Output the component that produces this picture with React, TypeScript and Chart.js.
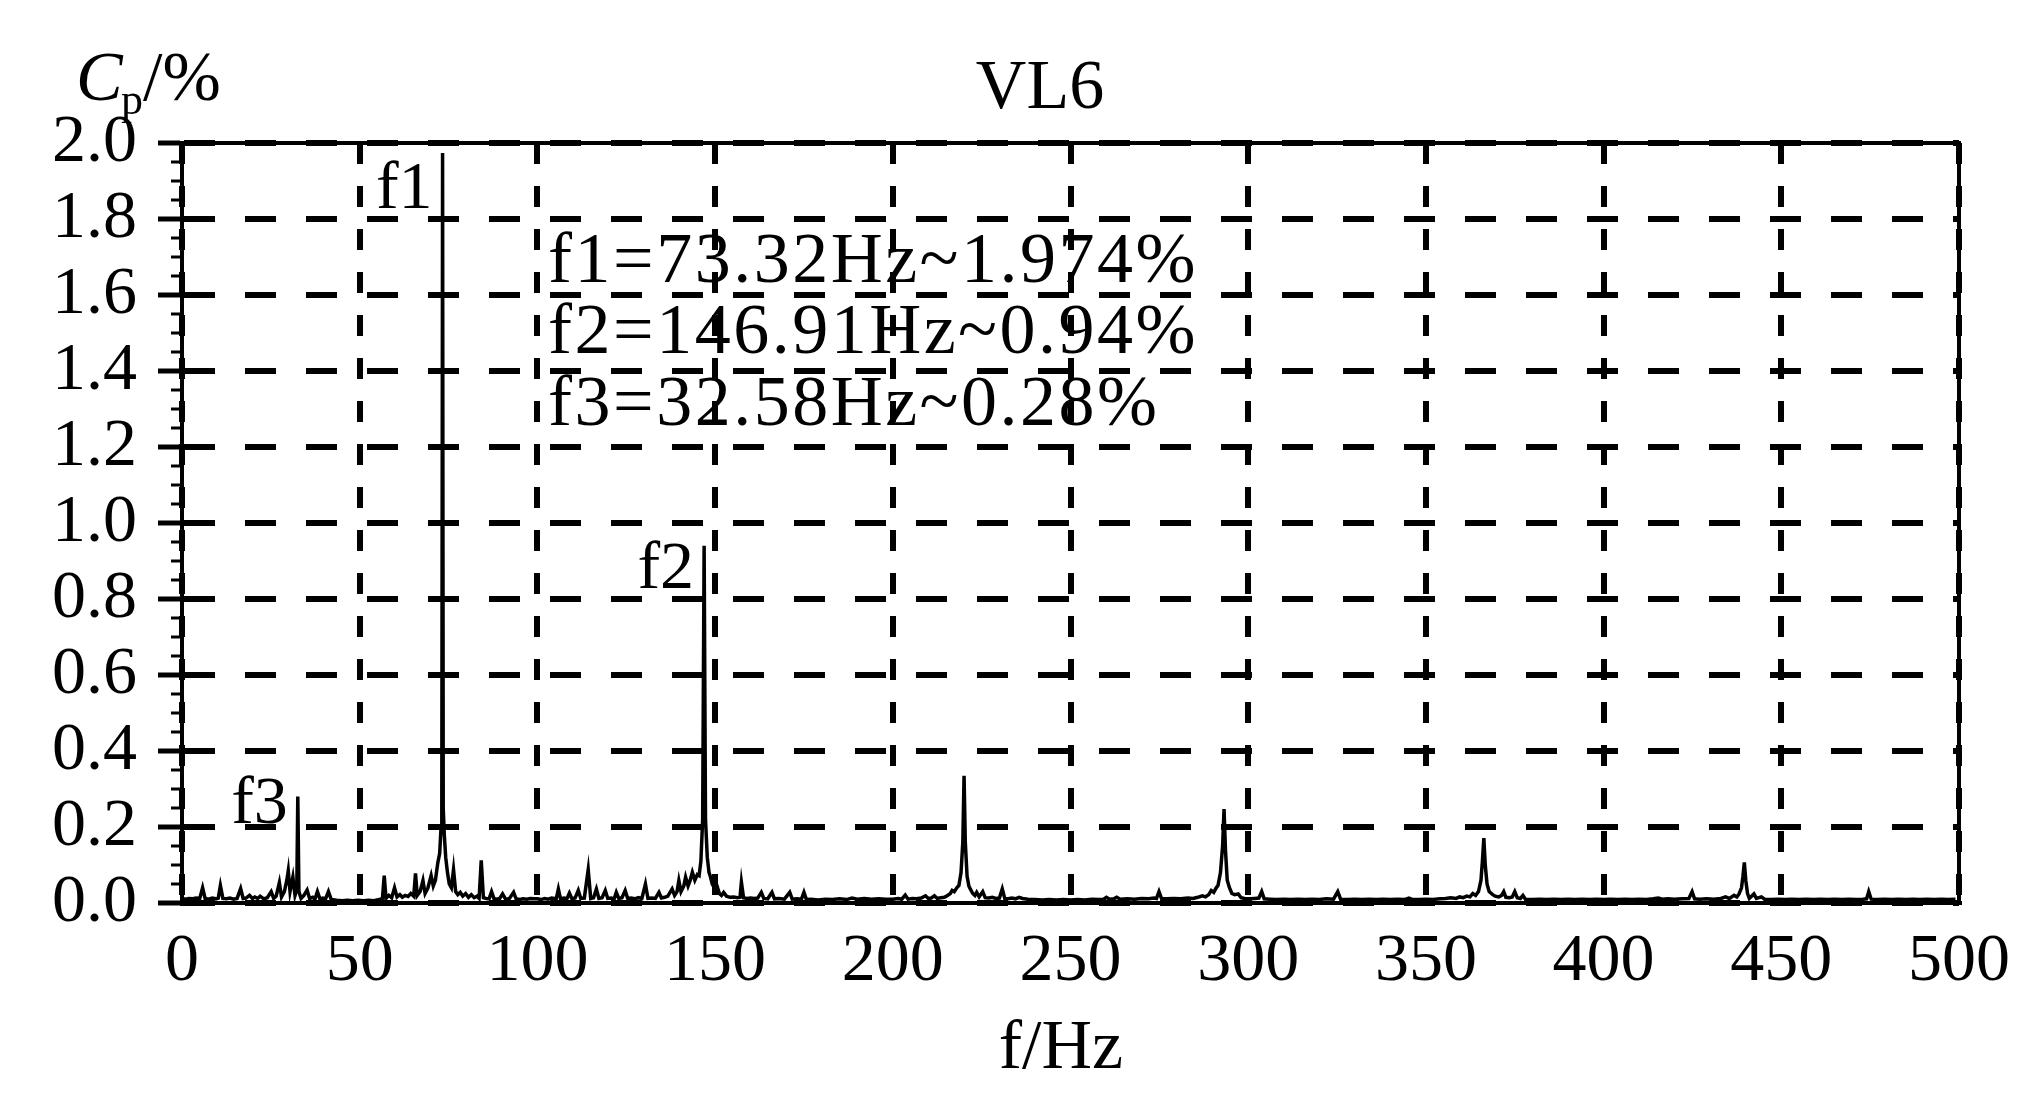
import React, { useEffect, useRef } from 'react';
import { Chart, registerables } from 'chart.js';

Chart.register(...registerables);

// ---------- data ----------
const xTickValues = [0, 50, 100, 150, 200, 250, 300, 350, 400, 450, 500];
const yTickValues = [0, 0.2, 0.4, 0.6, 0.8, 1.0, 1.2, 1.4, 1.6, 1.8, 2.0];

// spectrum vertices [f (Hz), Cp (%)]
const spectrum0to50: [number, number][] = [
  [0, 0.012], [1, 0.010], [2, 0.012], [3, 0.011], [4, 0.013], [5, 0.012], [5.8, 0.040], [6.5, 0.012],
  [7.5, 0.010], [8.5, 0.013], [9.5, 0.011], [10.2, 0.013], [10.8, 0.046], [11.5, 0.012], [12.5, 0.011],
  [13.5, 0.013], [14.5, 0.010], [15.5, 0.012], [16.5, 0.038], [17.2, 0.012], [18, 0.013], [19, 0.020],
  [19.8, 0.012], [20.5, 0.016], [21.3, 0.012], [22, 0.018], [23, 0.011], [24, 0.014], [25.1, 0.030],
  [25.8, 0.012], [26.5, 0.018], [27.4, 0.054], [28, 0.016], [28.8, 0.030], [29.5, 0.060], [29.9, 0.085],
  [30.4, 0.030], [31.2, 0.068], [31.8, 0.020], [32.3, 0.035], [32.58, 0.28], [32.9, 0.030], [33.5, 0.012],
  [34.3, 0.020], [35.2, 0.034], [35.9, 0.012], [36.8, 0.015], [37.4, 0.010], [38.1, 0.030], [38.8, 0.011],
  [39.6, 0.013], [40.4, 0.011], [41.2, 0.030], [42, 0.009], [43.5, 0.007], [45, 0.006], [46.5, 0.007],
  [48, 0.006], [49.5, 0.007],
];

const spectrum50to100: [number, number][] = [
  [51, 0.006], [52.5, 0.007], [54, 0.006], [55.5, 0.009], [56.4, 0.012], [56.9, 0.072], [57.4, 0.012],
  [58.2, 0.020], [59, 0.014], [59.8, 0.040], [60.5, 0.016], [61.3, 0.022], [62, 0.015], [62.8, 0.020],
  [63.6, 0.017], [64.4, 0.025], [65.2, 0.018], [65.7, 0.078], [66.2, 0.020], [67, 0.030], [67.8, 0.059],
  [68.4, 0.025], [69.2, 0.040], [70.1, 0.072], [70.7, 0.045], [71.3, 0.060], [72, 0.107], [72.5, 0.130],
  [72.9, 0.20], [73.1, 0.26], [73.32, 1.974], [73.5, 0.25], [73.8, 0.18], [74.2, 0.12], [74.7, 0.08],
  [75.2, 0.050], [75.8, 0.040], [76.4, 0.088], [77, 0.030], [77.6, 0.022], [78.3, 0.028], [79, 0.018],
  [79.8, 0.025], [80.6, 0.015], [81.4, 0.022], [82.2, 0.014], [83, 0.018], [83.6, 0.012], [84.2, 0.112],
  [84.8, 0.014], [85.6, 0.012], [86.4, 0.011], [87.1, 0.030], [87.8, 0.011], [88.6, 0.010], [89.4, 0.012],
  [90.2, 0.024], [91, 0.011], [92, 0.010], [93.3, 0.028], [94, 0.011], [95, 0.009], [96, 0.011],
  [97, 0.010], [98, 0.012], [99, 0.011],
];

const spectrum100to200: [number, number][] = [
  [100, 0.011], [101, 0.009], [102, 0.012], [103, 0.010], [104, 0.013], [105.3, 0.011], [105.9, 0.037],
  [106.5, 0.011], [107.5, 0.013], [108.3, 0.011], [109, 0.026], [109.7, 0.011], [110.6, 0.013],
  [111.5, 0.033], [112.2, 0.012], [113.2, 0.013], [114.3, 0.088], [115, 0.012], [115.8, 0.014],
  [116.6, 0.037], [117.3, 0.012], [118.2, 0.014], [119.1, 0.033], [119.8, 0.012], [120.8, 0.013],
  [121.6, 0.011], [122.2, 0.028], [122.9, 0.012], [123.8, 0.014], [124.7, 0.033], [125.4, 0.012],
  [126.4, 0.013], [127.4, 0.011], [128.4, 0.014], [129.4, 0.012], [130.4, 0.050], [131.1, 0.012],
  [132.1, 0.013], [133.2, 0.012], [134.2, 0.028], [134.9, 0.013], [135.8, 0.015], [136.7, 0.018],
  [137.9, 0.037], [138.6, 0.020], [139.3, 0.030], [139.8, 0.059], [140.4, 0.030], [141.2, 0.045],
  [141.7, 0.068], [142.4, 0.045], [143.0, 0.060], [143.6, 0.081], [144.3, 0.060], [145, 0.075],
  [145.5, 0.072], [146.0, 0.11], [146.5, 0.22], [146.91, 0.94], [147.3, 0.22], [147.8, 0.12],
  [148.3, 0.080], [148.6, 0.072], [149.2, 0.050], [149.8, 0.040], [150.5, 0.046], [151.2, 0.025],
  [151.8, 0.020], [152.4, 0.028], [153.2, 0.018], [154.2, 0.015], [155.2, 0.016], [156.3, 0.014],
  [157.0, 0.015], [157.4, 0.055], [158, 0.014], [159, 0.012], [160, 0.013], [161, 0.012], [162, 0.013],
  [163, 0.028], [163.7, 0.012], [164.8, 0.011], [166, 0.028], [166.7, 0.011], [168, 0.012],
  [169.5, 0.010], [171, 0.028], [171.7, 0.010], [173, 0.011], [174.3, 0.010], [175, 0.028],
  [175.7, 0.009], [177, 0.010], [179, 0.008], [181, 0.010], [183, 0.009], [185, 0.011], [187, 0.009],
  [188.5, 0.013], [190, 0.010], [192, 0.012], [194, 0.010], [196, 0.011], [198, 0.010],
];

const spectrum200to300: [number, number][] = [
  [200, 0.010], [201.5, 0.012], [202.5, 0.010], [203.5, 0.021], [204.3, 0.010], [205.5, 0.012],
  [206.7, 0.011], [208, 0.013], [209.2, 0.019], [210, 0.012], [210.8, 0.013], [211.7, 0.019],
  [212.5, 0.012], [213.5, 0.014], [214.5, 0.015], [215.4, 0.020], [216.2, 0.025], [216.7, 0.033],
  [217.3, 0.030], [218, 0.040], [218.6, 0.046], [219.2, 0.080], [219.7, 0.16], [220.05, 0.335],
  [220.4, 0.16], [220.9, 0.070], [221.4, 0.045], [221.8, 0.037], [222.5, 0.025], [223.1, 0.020],
  [223.6, 0.028], [224.3, 0.016], [225.3, 0.030], [226, 0.014], [227, 0.013], [228, 0.015], [229, 0.012],
  [230, 0.013], [230.8, 0.037], [231.5, 0.012], [232.5, 0.011], [233.5, 0.013], [234.5, 0.011],
  [235.5, 0.015], [236.5, 0.012], [238, 0.010], [240, 0.009], [242, 0.008], [244, 0.009], [246, 0.008],
  [248, 0.009], [250, 0.008], [252, 0.009], [254, 0.008], [256, 0.010], [258, 0.009], [259.3, 0.010],
  [260.1, 0.015], [261, 0.010], [262.2, 0.011], [263, 0.015], [264, 0.010], [266, 0.011], [268, 0.010],
  [270, 0.012], [272, 0.011], [273.5, 0.013], [274.2, 0.012], [274.9, 0.030], [275.6, 0.012],
  [277, 0.011], [279, 0.012], [281, 0.011], [283, 0.013], [284.5, 0.012], [285.8, 0.015], [287.1, 0.019],
  [288, 0.016], [288.9, 0.022], [289.6, 0.033], [290.3, 0.028], [291, 0.040], [291.5, 0.046],
  [292.2, 0.080], [292.8, 0.15], [293.2, 0.247], [293.6, 0.14], [294.1, 0.060], [294.7, 0.041],
  [295.4, 0.025], [296.2, 0.022], [297.2, 0.024], [298, 0.014], [299, 0.012],
];

const spectrum300to400: [number, number][] = [
  [300.5, 0.011], [301.8, 0.012], [303, 0.013], [303.8, 0.030], [304.5, 0.011], [306, 0.010],
  [308, 0.009], [310, 0.010], [312, 0.009], [314, 0.010], [316, 0.009], [318, 0.010], [320, 0.009],
  [322, 0.011], [324, 0.010], [325.2, 0.030], [326, 0.010], [328, 0.009], [330, 0.010], [332, 0.009],
  [334, 0.010], [336, 0.009], [338, 0.010], [340, 0.009], [342, 0.010], [344, 0.009], [345.2, 0.013],
  [346, 0.010], [348, 0.009], [350, 0.010], [352, 0.009], [354, 0.011], [355.5, 0.012], [357, 0.014],
  [358.5, 0.012], [359.5, 0.016], [360.5, 0.014], [361.5, 0.018], [362.4, 0.016], [363.2, 0.025],
  [364, 0.020], [364.8, 0.030], [365.5, 0.060], [365.9, 0.11], [366.3, 0.171], [366.7, 0.10],
  [367.2, 0.050], [367.8, 0.030], [368.8, 0.022], [369.5, 0.018], [370.5, 0.016], [371.3, 0.020],
  [371.9, 0.030], [372.5, 0.015], [373.5, 0.014], [374.3, 0.016], [375, 0.030], [375.7, 0.014],
  [376.6, 0.012], [377.3, 0.020], [378, 0.010], [380, 0.009], [382, 0.010], [384, 0.009], [386, 0.010],
  [388, 0.009], [390, 0.010], [392, 0.009], [394, 0.010], [396, 0.009], [398, 0.010],
];

const spectrum400to500: [number, number][] = [
  [400, 0.009], [402, 0.010], [404, 0.009], [406, 0.010], [408, 0.009], [410, 0.010], [412, 0.009],
  [414, 0.011], [415.4, 0.013], [416.5, 0.010], [418, 0.011], [420, 0.010], [422, 0.011], [424, 0.012],
  [424.9, 0.030], [425.6, 0.011], [427, 0.010], [429, 0.011], [431, 0.010], [433, 0.012], [434.3, 0.016],
  [435.4, 0.012], [436.7, 0.020], [437.5, 0.016], [438.1, 0.024], [438.8, 0.040], [439.2, 0.070],
  [439.6, 0.107], [440.0, 0.060], [440.5, 0.025], [441, 0.012], [442.3, 0.024], [443, 0.012],
  [444.4, 0.016], [445.3, 0.010], [447, 0.009], [449, 0.010], [451, 0.009], [453, 0.010], [455, 0.009],
  [457, 0.010], [459, 0.009], [461, 0.010], [463, 0.009], [465, 0.010], [467, 0.009], [469, 0.010],
  [471, 0.009], [473, 0.010], [474, 0.011], [474.6, 0.030], [475.3, 0.010], [477, 0.009], [479, 0.010],
  [481, 0.009], [483, 0.010], [485, 0.009], [487, 0.010], [489, 0.009], [491, 0.010], [493, 0.009],
  [495, 0.010], [497, 0.009], [499, 0.010],
];

const peakFreqs = [73.32, 146.91, 32.58];
const peakNames = ['f1', 'f2', 'f3'];
const peakNameY = [1.83, 0.83, 0.21];
const infoLines = ['f1=73.32Hz~1.974%', 'f2=146.91Hz~0.94%', 'f3=32.58Hz~0.28%'];
const infoX = 103;
const infoY = [1.634, 1.447, 1.258];
const chartTitle = 'VL6';
const xTitle = 'f/Hz';

const SERIF = '"Liberation Serif", "Times New Roman", serif';

const textPlugin = {
  id: 'textLayer',
  afterDraw(chart: any) {
    const { ctx, chartArea, scales } = chart;
    const xs = scales.x;
    const ys = scales.y;
    ctx.save();
    // top and right frame
    ctx.strokeStyle = '#000';
    ctx.lineWidth = 4;
    ctx.setLineDash([]);
    ctx.beginPath();
    ctx.moveTo(chartArea.left - 24, chartArea.top);
    ctx.lineTo(chartArea.right, chartArea.top);
    ctx.lineTo(chartArea.right, chartArea.bottom + 2);
    ctx.stroke();
    // minor y ticks
    ctx.lineWidth = 3;
    for (let i = 1; i < 40; i++) {
      if (i % 4 === 0) continue;
      const py = ys.getPixelForValue(i * 0.05);
      ctx.beginPath();
      ctx.moveTo(chartArea.left - 11, py);
      ctx.lineTo(chartArea.left, py);
      ctx.stroke();
    }
    ctx.fillStyle = '#000';
    ctx.textBaseline = 'alphabetic';
    // title
    ctx.font = `70px ${SERIF}`;
    ctx.textAlign = 'center';
    ctx.fillText(chartTitle, 1040, 108);
    // x title
    ctx.fillText(xTitle, 1061, 1068);
    // y title  Cp/%
    ctx.textAlign = 'left';
    ctx.font = `italic 70px ${SERIF}`;
    ctx.fillText('C', 76, 100);
    ctx.font = `44px ${SERIF}`;
    ctx.fillText('p', 121, 114);
    ctx.font = `70px ${SERIF}`;
    ctx.fillText('/%', 143, 100);
    // peak names
    ctx.font = `68px ${SERIF}`;
    ctx.textAlign = 'right';
    peakNames.forEach((n, i) => {
      ctx.fillText(n, xs.getPixelForValue(peakFreqs[i]) - 10, ys.getPixelForValue(peakNameY[i]));
    });
    // info lines
    ctx.textAlign = 'left';
    ctx.font = `72px ${SERIF}`;
    (ctx as any).letterSpacing = '2.5px';
    infoLines.forEach((t, i) => {
      ctx.fillText(t, xs.getPixelForValue(infoX), ys.getPixelForValue(infoY[i]));
    });
    ctx.restore();
  },
};

export default function App() {
  const ref = useRef<HTMLCanvasElement>(null);
  useEffect(() => {
    document.body.style.margin = '0';
    document.body.style.overflow = 'hidden';
    const spectrum = [
      ...spectrum0to50,
      ...spectrum50to100,
      ...spectrum100to200,
      ...spectrum200to300,
      ...spectrum300to400,
      ...spectrum400to500,
    ].map(([f, v]) => ({ x: f, y: v }));
    const chart = new Chart(ref.current!, {
      type: 'line',
      data: {
        datasets: [
          {
            data: spectrum,
            borderColor: '#000',
            borderWidth: 3.5,
            pointRadius: 0,
            tension: 0,
            fill: false,
          },
        ],
      },
      options: {
        responsive: false,
        animation: false,
        devicePixelRatio: 1,
        layout: { padding: { top: 143, right: 82, left: 0, bottom: 0 } },
        plugins: {
          legend: { display: false },
          tooltip: { enabled: false },
          title: { display: false },
        },
        scales: {
          x: {
            type: 'linear',
            min: 0,
            max: 500,
            afterBuildTicks: (s: any) => {
              s.ticks = xTickValues.map((v) => ({ value: v }));
            },
            afterFit: (s: any) => {
              s.height = 210;
            },
            ticks: {
              color: '#000',
              font: { family: SERIF, size: 68 },
              padding: 18,
              maxRotation: 0,
              autoSkip: false,
              callback: (v: any) => String(v),
            },
            grid: { color: '#000', lineWidth: 6, drawTicks: false },
            border: { color: '#000', width: 4, dash: [21, 22] },
          },
          y: {
            type: 'linear',
            min: 0,
            max: 2,
            afterBuildTicks: (s: any) => {
              s.ticks = yTickValues.map((v) => ({ value: v }));
            },
            afterFit: (s: any) => {
              s.width = 182;
            },
            ticks: {
              color: '#000',
              font: { family: SERIF, size: 68 },
              padding: 21,
              autoSkip: false,
              callback: (v: any) => Number(v).toFixed(1),
            },
            grid: { color: '#000', lineWidth: 6, tickLength: 24, tickWidth: 5, drawTicks: true },
            border: { color: '#000', width: 4, dash: [31, 30] },
          },
        },
      },
      plugins: [textPlugin],
    } as any);
    return () => chart.destroy();
  }, []);
  return (
    <div style={{ width: 2041, height: 1113, background: '#fff' }}>
      <canvas ref={ref} width={2041} height={1113} style={{ display: 'block', width: 2041, height: 1113 }} />
    </div>
  );
}
